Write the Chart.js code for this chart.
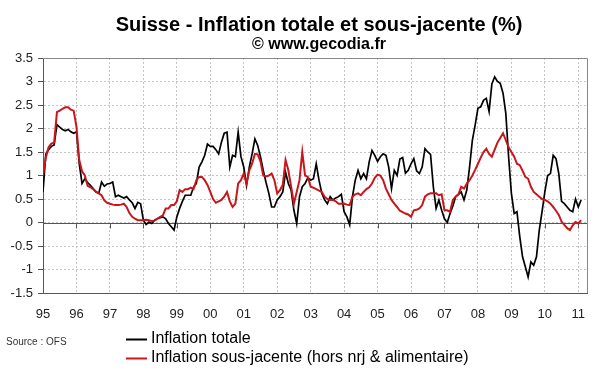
<!DOCTYPE html>
<html>
<head>
<meta charset="utf-8">
<script src="https://cdn.jsdelivr.net/npm/chart.js@4.4.0/dist/chart.umd.min.js"></script>
<style>
  html, body { margin: 0; padding: 0; background: #fff; }
  #wrap { width: 600px; height: 372px; }
</style>
</head>
<body>
<div id="wrap"><canvas id="chart" width="600" height="372"></canvas></div>
<script>
const firstYear = 1995;
const titleText = 'Suisse - Inflation totale et sous-jacente (%)';
const subtitleText = '\u00a9 www.gecodia.fr';
const sourceText = 'Source : OFS';
const seriesLabels = ['Inflation totale', 'Inflation sous-jacente (hors nrj & alimentaire)'];

// glissement annuel, mensuel, de janvier 1995 a fevrier 2011
const inflationTotale = [
  0.65, 1.45, 1.55, 1.62, 1.65, 2.08, 2.03, 1.98, 1.95, 1.98, 1.93, 1.90,
  1.93, 1.25, 0.83, 0.93, 0.85, 0.79, 0.72, 0.65, 0.62, 0.86, 0.77, 0.82,
  0.83, 0.86, 0.55, 0.58, 0.55, 0.52, 0.55, 0.48, 0.42, 0.30, 0.43, 0.40,
  0.05, -0.04, 0.01, -0.02, 0.05, 0.08, 0.10, 0.12, 0.08, -0.02, -0.09, -0.16,
  0.12, 0.30, 0.45, 0.58, 0.58, 0.58, 0.75, 0.83, 1.18, 1.29, 1.43, 1.67,
  1.62, 1.62, 1.55, 1.46, 1.71, 1.90, 1.92, 1.18, 1.43, 1.40, 1.92, 1.40,
  1.18, 0.79, 1.18, 1.46, 1.78, 1.64, 1.40, 1.11, 0.85, 0.62, 0.33, 0.33,
  0.48, 0.55, 0.65, 1.07, 0.83, 0.69, 0.26, -0.02, 0.55, 0.76, 0.83, 0.95,
  0.90, 0.93, 1.25, 0.90, 0.62, 0.48, 0.40, 0.55, 0.48, 0.52, 0.55, 0.60,
  0.23, 0.12, -0.05, 0.55, 0.90, 1.11, 0.93, 1.04, 0.93, 1.29, 1.53, 1.43,
  1.30, 1.40, 1.46, 1.43, 1.18, 0.72, 1.11, 1.00, 1.35, 1.38, 1.05, 1.11,
  1.25, 1.36, 1.10, 1.04, 1.18, 1.57, 1.50, 1.45, 0.76, 0.30, 0.48, 0.26,
  0.08, 0.00, 0.19, 0.35, 0.55, 0.60, 0.65, 0.48, 0.69, 1.18, 1.75, 2.07,
  2.43, 2.46, 2.60, 2.64, 2.36, 2.95, 3.10, 3.00, 2.96, 2.75, 2.32, 1.40,
  0.62, 0.19, 0.23, -0.30, -0.73, -0.94, -1.16, -0.84, -0.91, -0.73, -0.16, 0.23,
  0.65, 1.00, 1.04, 1.43, 1.36, 1.04, 0.45, 0.40, 0.33, 0.26, 0.23, 0.50,
  0.33, 0.48
];

const inflationSousJacente = [
  1.00, 1.38, 1.60, 1.68, 1.70, 2.35, 2.38, 2.42, 2.45, 2.45, 2.40, 2.38,
  2.04, 1.33, 1.09, 1.00, 0.78, 0.75, 0.71, 0.66, 0.62, 0.58, 0.47, 0.42,
  0.40, 0.38, 0.37, 0.37, 0.38, 0.40, 0.33, 0.20, 0.12, 0.08, 0.05, 0.05,
  0.05, 0.06, 0.05, 0.03, 0.04, 0.08, 0.12, 0.15, 0.30, 0.30, 0.37, 0.37,
  0.45, 0.69, 0.65, 0.71, 0.71, 0.74, 0.71, 0.90, 0.97, 0.97, 0.90, 0.80,
  0.65, 0.50, 0.42, 0.45, 0.48, 0.55, 0.65, 0.45, 0.33, 0.40, 0.83, 0.90,
  1.04, 0.83, 1.11, 1.25, 1.46, 1.45, 1.30, 1.00, 0.98, 1.00, 1.04, 0.90,
  0.62, 0.69, 0.80, 1.33, 1.11, 0.76, 0.40, 0.65, 0.90, 1.50, 1.00, 0.97,
  0.76, 0.74, 0.71, 0.68, 0.65, 0.55, 0.50, 0.48, 0.48, 0.45, 0.40, 0.40,
  0.40, 0.38, 0.37, 0.55, 0.60, 0.62, 0.58, 0.65, 0.71, 0.75, 0.83, 0.95,
  1.02, 1.00, 0.90, 0.72, 0.60, 0.48, 0.40, 0.33, 0.25, 0.22, 0.19, 0.17,
  0.12, 0.26, 0.27, 0.30, 0.37, 0.55, 0.60, 0.62, 0.62, 0.62, 0.58, 0.60,
  0.26, 0.26, 0.23, 0.48, 0.55, 0.60, 0.76, 0.72, 0.83, 0.90, 1.00, 1.12,
  1.25, 1.38, 1.50, 1.57, 1.46, 1.40, 1.55, 1.70, 1.80, 1.90, 1.75, 1.60,
  1.50, 1.40, 1.25, 1.22, 1.10, 0.97, 0.93, 0.76, 0.65, 0.60, 0.55, 0.50,
  0.48, 0.45, 0.40, 0.33, 0.25, 0.16, 0.02, -0.05, -0.12, -0.16, -0.06, 0.01,
  -0.02, 0.05
];

const seriesColors = ['#000000', '#c8161b'];

// une date decimale par mois
const months = inflationTotale.map((v, i) => firstYear + i / 12);
const toPoints = arr => arr.map((v, i) => ({ x: months[i], y: v }));

const FONT = "'Liberation Sans', Arial, sans-serif";

// titres, ligne du zero, cadre, legende
const decor = {
  id: 'decor',
  beforeDatasetsDraw(chart) {
    const { ctx, chartArea: a, scales: { x, y } } = chart;
    const y0 = Math.round(y.getPixelForValue(0)) + 0.5;
    ctx.save();
    ctx.strokeStyle = '#888';
    ctx.lineWidth = 1;
    ctx.beginPath();
    ctx.moveTo(a.left, Math.round(a.top) + 0.5);
    ctx.lineTo(Math.round(a.right) + 0.5, Math.round(a.top) + 0.5);
    ctx.lineTo(Math.round(a.right) + 0.5, a.bottom);
    ctx.stroke();

    ctx.strokeStyle = '#555';
    ctx.beginPath();
    ctx.moveTo(a.left, y0);
    ctx.lineTo(a.right, y0);
    x.ticks.forEach(t => {
      if (t.value <= firstYear) return;
      const px = Math.round(x.getPixelForValue(t.value)) + 0.5;
      ctx.moveTo(px, y0);
      ctx.lineTo(px, y0 + 5);
    });
    ctx.stroke();
    ctx.restore();
  },
  afterDraw(chart) {
    const { ctx } = chart;
    ctx.save();
    ctx.fillStyle = '#000';
    ctx.textAlign = 'center';
    ctx.textBaseline = 'alphabetic';
    ctx.font = 'bold 20px ' + FONT;
    ctx.fillText(titleText, 319, 31);
    ctx.font = 'bold 16px ' + FONT;
    ctx.fillText(subtitleText, 319, 49);

    ctx.textAlign = 'left';
    ctx.textBaseline = 'middle';
    ctx.font = '10px ' + FONT;
    ctx.fillStyle = '#333';
    ctx.fillText(sourceText, 6, 342);

    ctx.font = '16px ' + FONT;
    chart.data.datasets.forEach((ds, i) => {
      const ly = 339 + i * 19;
      ctx.strokeStyle = ds.borderColor;
      ctx.lineWidth = 2;
      ctx.beginPath();
      ctx.moveTo(126, ly + 0.5);
      ctx.lineTo(147, ly + 0.5);
      ctx.stroke();
      ctx.fillStyle = '#000';
      ctx.fillText(ds.label, 151, ly);
    });
    ctx.restore();
  }
};

const config = {
  type: 'line',
  data: {
    datasets: [
      {
        label: seriesLabels[0],
        data: toPoints(inflationTotale),
        borderColor: seriesColors[0],
        borderWidth: 1.7,
        pointRadius: 0,
        tension: 0,
        order: 2
      },
      {
        label: seriesLabels[1],
        data: toPoints(inflationSousJacente),
        borderColor: seriesColors[1],
        borderWidth: 2,
        pointRadius: 0,
        tension: 0,
        order: 1
      }
    ]
  },
  options: {
    responsive: false,
    animation: false,
    devicePixelRatio: 1,
    layout: { padding: { top: 58, right: 13, bottom: 0, left: 0 } },
    plugins: {
      legend: { display: false },
      title: { display: false },
      tooltip: { enabled: false }
    },
    scales: {
      x: {
        type: 'linear',
        min: firstYear,
        max: 2011.26,
        afterFit: s => { s.height = 79; },
        ticks: {
          stepSize: 1,
          includeBounds: false,
          autoSkip: false,
          maxRotation: 0,
          padding: 14,
          color: '#222',
          font: { family: FONT, size: 13 },
          callback: v => String(Math.round(v) % 100).padStart(2, '0')
        },
        grid: { color: '#c4c4c4', drawTicks: false },
        border: { display: true, color: '#555', dash: [2, 2] }
      },
      y: {
        min: -1.5,
        max: 3.5,
        afterFit: s => { s.width = 43; },
        ticks: {
          stepSize: 0.5,
          padding: 5,
          color: '#222',
          font: { family: FONT, size: 13 },
          callback: v => String(Math.round(v * 10) / 10)
        },
        grid: { color: '#c4c4c4', tickColor: '#555', tickLength: 5, tickBorderDash: [] },
        border: { display: true, color: '#555', dash: [2, 2] }
      }
    }
  },
  plugins: [decor]
};

const chartCtx = document.getElementById('chart');
window.inflationChart = new Chart(chartCtx, config);
</script>
</body>
</html>
